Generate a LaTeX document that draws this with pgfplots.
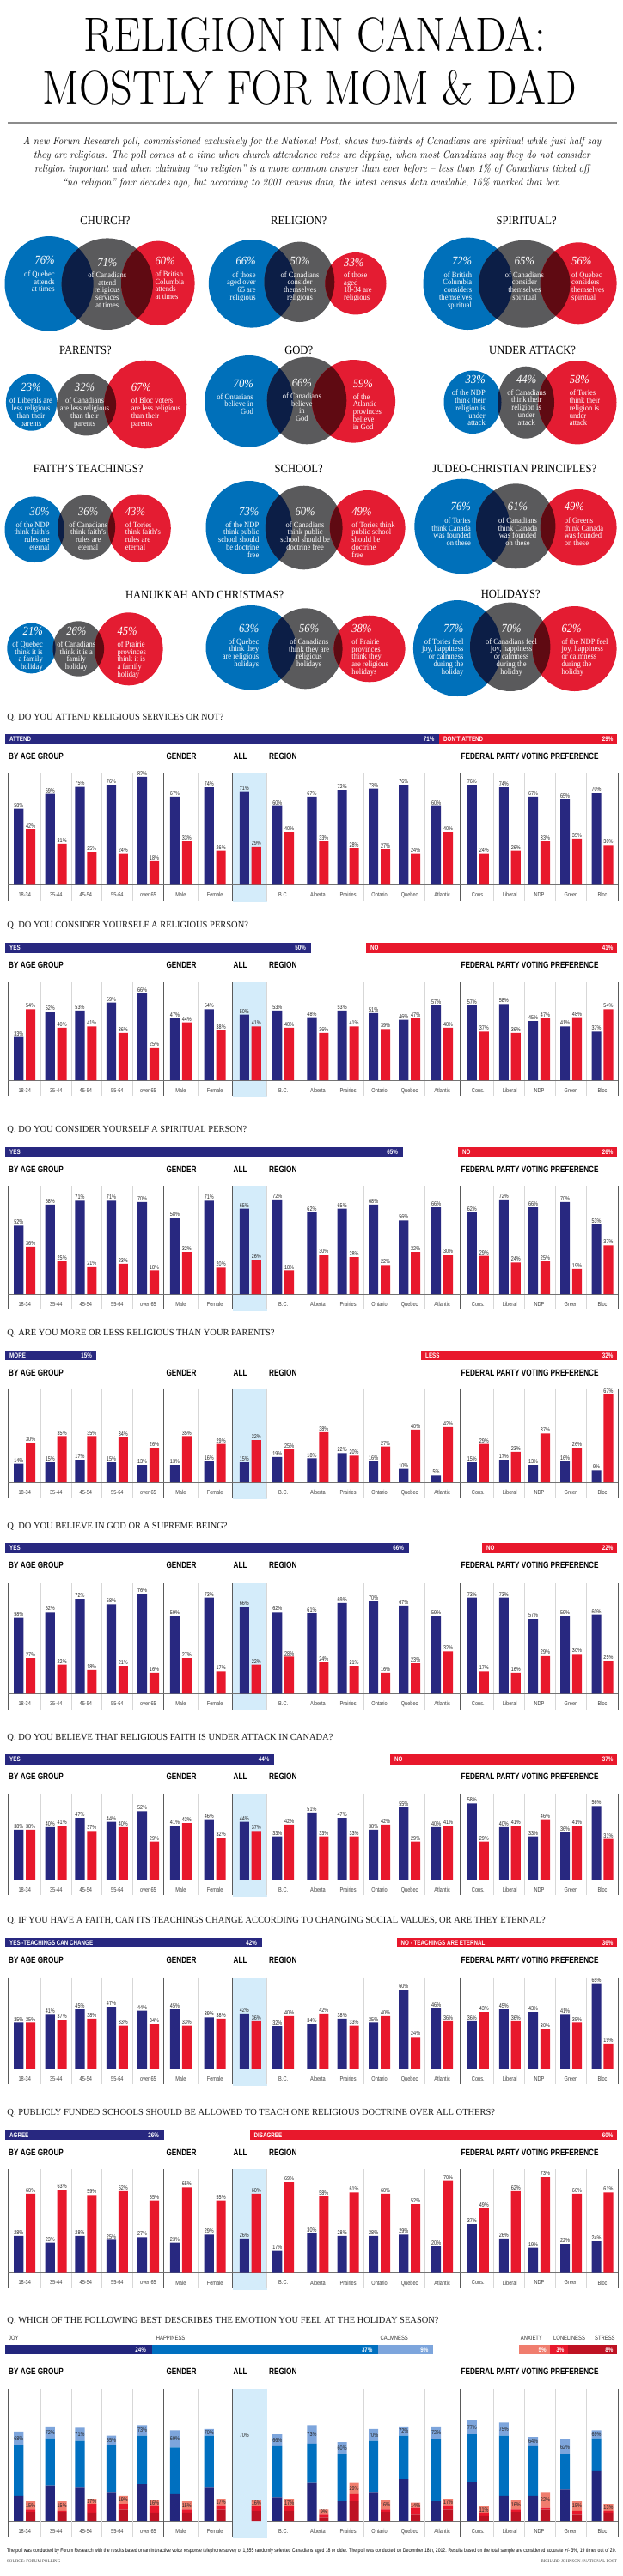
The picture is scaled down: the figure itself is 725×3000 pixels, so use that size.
\documentclass[border=0pt]{standalone}
\usepackage{pgfplots}
\pgfplotsset{compat=1.18}
\usepackage{pgfplotstable}
\usepackage{graphicx}
\usepackage{fontspec}
\newfontfamily\serifc[FakeStretch=0.9]{Liberation Serif}
\newfontfamily\serifq[FakeStretch=0.97]{Liberation Serif}
\newfontfamily\sansc[FakeStretch=0.78]{Liberation Sans}

\definecolor{navy}{RGB}{40,40,128}
\definecolor{bred}{RGB}{232,24,44}
\definecolor{canbg}{RGB}{212,236,250}
\definecolor{vblue}{RGB}{0,112,186}
\definecolor{vgray}{RGB}{90,90,92}
\definecolor{vred}{RGB}{228,28,50}
\definecolor{vnavy}{RGB}{12,30,70}
\definecolor{vmaroon}{RGB}{95,10,18}
\definecolor{joy}{RGB}{35,38,125}
\definecolor{hap}{RGB}{0,112,192}
\definecolor{calm}{RGB}{125,165,220}
\definecolor{anx}{RGB}{240,125,110}
\definecolor{lon}{RGB}{232,24,44}
\definecolor{strc}{RGB}{190,18,35}
\definecolor{clsep}{RGB}{215,215,215}
\definecolor{cdsep}{RGB}{90,90,90}

\tikzset{
 sepl/.style={draw=clsep, line width=0.7pt},
 sepd/.style={draw=cdsep, line width=1pt},
 basel/.style={draw=black!55, line width=0.9pt},
 vtitle/.style={font=\serifc\fontsize{14}{14}\selectfont, inner sep=0pt},
 vpct/.style={font=\serifc\itshape\fontsize{14}{14}\selectfont, text=white, inner sep=0pt},
 vtxt/.style={font=\serifc\fontsize{9.5}{8.8}\selectfont, text=white, inner sep=0pt},
 qtit/.style={font=\serifq\fontsize{10.8}{12}\selectfont, text=black!90, anchor=west, inner sep=0pt},
 head/.style={font=\sansc\bfseries\fontsize{10.5}{12}\selectfont, anchor=west, inner sep=0pt},
 sumt/.style={font=\sansc\bfseries\fontsize{8}{9}\selectfont, text=white, inner sep=0pt},
 legt/.style={font=\sansc\fontsize{7.5}{9}\selectfont, text=black!80, anchor=west, inner sep=0pt},
}

\pgfplotsset{
 secbase/.style={anchor=south west, scale only axis, width=725pt, height=153pt,
  xmin=0, xmax=725, ymin=0, ymax=100, clip=false,
  axis x line*=bottom, hide y axis, x axis line style={draw=none},
  xtick style={draw=none}, major tick length=0pt,
  xtick={28.7,65.2,99.9,136.4,172.5,210.4,250.2,291.3,329.7,369.9,405.1,441.6,476.7,514.6,556.3,593.3,627.5,664.5,701.0},
  xticklabels={18-34,35-44,45-54,55-64,over 65,Male,Female,Canada,B.C.,Alberta,Prairies,Ontario,Quebec,Atlantic,Cons.,Liberal,NDP,Green,Bloc},
  xticklabel style={font=\sansc\fontsize{7.2}{8}\selectfont, text=black!75, inner sep=0pt},
  xticklabel shift=9pt,
  every node near coord/.append style={font=\sansc\fontsize{7}{8}\selectfont, text=black!85, inner sep=1.2pt}},
 secax/.style={secbase, ybar=2.8pt, bar width=11.1pt,
  nodes near coords={\pgfmathprintnumber[assume math mode=true]{\pgfplotspointmeta}\%}},
 sumax/.style={anchor=west, scale only axis, width=712.5pt, height=11.5pt,
  xmin=0, xmax=100, ymin=-0.5, ymax=0.5, xbar stacked, bar width=11.5pt, hide axis, clip=false},
}

% ---------------- data ----------------
\pgfplotstableread{
x a b
28.7 58 42
65.2 69 31
99.9 75 25
136.4 76 24
172.5 82 18
210.4 67 33
250.2 74 26
291.3 71 29
329.7 60 40
369.9 67 33
405.1 72 28
441.6 73 27
476.7 76 24
514.6 60 40
556.3 76 24
593.3 74 26
627.5 67 33
664.5 65 35
701.0 70 30
}\qone
\pgfplotstableread{
x a b
28.7 33 54
65.2 52 40
99.9 53 41
136.4 59 36
172.5 66 25
210.4 47 44
250.2 54 38
291.3 50 41
329.7 53 40
369.9 48 36
405.1 53 41
441.6 51 39
476.7 46 47
514.6 57 40
556.3 57 37
593.3 58 36
627.5 45 47
664.5 41 48
701.0 37 54
}\qtwo
\pgfplotstableread{
x a b
28.7 52 36
65.2 68 25
99.9 71 21
136.4 71 23
172.5 70 18
210.4 58 32
250.2 71 20
291.3 65 26
329.7 72 18
369.9 62 30
405.1 65 28
441.6 68 22
476.7 56 32
514.6 66 30
556.3 62 29
593.3 72 24
627.5 66 25
664.5 70 19
701.0 53 37
}\qthree
\pgfplotstableread{
x a b
28.7 14 30
65.2 15 35
99.9 17 35
136.4 15 34
172.5 13 26
210.4 13 35
250.2 16 29
291.3 15 32
329.7 19 25
369.9 18 38
405.1 22 20
441.6 16 27
476.7 10 40
514.6 5 42
556.3 15 29
593.3 17 23
627.5 13 37
664.5 16 26
701.0 9 67
}\qfour
\pgfplotstableread{
x a b
28.7 58 27
65.2 62 22
99.9 72 18
136.4 68 21
172.5 76 16
210.4 59 27
250.2 73 17
291.3 66 22
329.7 62 28
369.9 61 24
405.1 69 21
441.6 70 16
476.7 67 23
514.6 59 32
556.3 73 17
593.3 73 16
627.5 57 29
664.5 59 30
701.0 60 25
}\qfive
\pgfplotstableread{
x a b
28.7 38 38
65.2 40 41
99.9 47 37
136.4 44 40
172.5 52 29
210.4 41 43
250.2 46 32
291.3 44 37
329.7 33 42
369.9 51 33
405.1 47 33
441.6 38 42
476.7 55 29
514.6 40 41
556.3 58 29
593.3 40 41
627.5 33 46
664.5 36 41
701.0 56 31
}\qsix
\pgfplotstableread{
x a b
28.7 35 35
65.2 41 37
99.9 45 38
136.4 47 33
172.5 44 34
210.4 45 33
250.2 39 38
291.3 42 36
329.7 32 40
369.9 34 42
405.1 38 33
441.6 35 40
476.7 60 24
514.6 46 36
556.3 36 43
593.3 45 36
627.5 43 30
664.5 41 35
701.0 65 19
}\qseven
\pgfplotstableread{
x a b
28.7 28 60
65.2 23 63
99.9 28 59
136.4 25 62
172.5 27 55
210.4 23 65
250.2 29 55
291.3 26 60
329.7 17 69
369.9 30 58
405.1 28 61
441.6 28 60
476.7 29 52
514.6 20 70
556.3 37 49
593.3 26 62
627.5 19 73
664.5 22 60
701.0 24 61
}\qeight
\pgfplotstableread{
x joy hap calm st lo an tb tr
28.7 19 39 10 7 2 6 68 15
65.2 27 36 9 7 1 7 72 15
99.9 26 35 10 6 7 4 71 17
136.4 22 36 7 9 4 6 65 19
172.5 28 37 8 6 6 4 73 16
210.4 21 35 13 6 3 6 69 15
250.2 26 39 5 9 3 5 70 17
291.3 24 37 9 8 3 5 70 16
329.7 18 39 9 8 3 6 66 17
369.9 29 30 14 3 2 4 73 9
405.1 15 36 9 15 6 8 60 29
441.6 22 39 9 7 2 7 70 16
476.7 32 33 7 5 5 4 72 14
514.6 15 47 10 9 3 5 72 17
556.3 30 36 11 4 2 5 77 11
593.3 19 46 10 7 2 7 75 16
627.5 19 38 7 9 1 12 64 22
664.5 24 27 11 5 3 7 62 15
701.0 38 25 6 6 2 5 69 13
}\qnine

% ---------------- helpers ----------------
\newcommand\barsdeco[1]{%
\fill[canbg] (axis cs:270.5,#1) rectangle (axis cs:310.7,-13);
\draw[sepl] (axis cs:47.6,#1) -- (axis cs:47.6,-12);
\draw[sepl] (axis cs:83.2,#1) -- (axis cs:83.2,-12);
\draw[sepl] (axis cs:118.8,#1) -- (axis cs:118.8,-12);
\draw[sepl] (axis cs:154.4,#1) -- (axis cs:154.4,-12);
\draw[sepl] (axis cs:230.3,#1) -- (axis cs:230.3,-12);
\draw[sepl] (axis cs:310.7,#1) -- (axis cs:310.7,-12);
\draw[sepl] (axis cs:351.4,#1) -- (axis cs:351.4,-12);
\draw[sepl] (axis cs:387.0,#1) -- (axis cs:387.0,-12);
\draw[sepl] (axis cs:423.1,#1) -- (axis cs:423.1,-12);
\draw[sepl] (axis cs:458.7,#1) -- (axis cs:458.7,-12);
\draw[sepl] (axis cs:494.8,#1) -- (axis cs:494.8,-12);
\draw[sepl] (axis cs:574.8,#1) -- (axis cs:574.8,-12);
\draw[sepl] (axis cs:610.4,#1) -- (axis cs:610.4,-12);
\draw[sepl] (axis cs:646.0,#1) -- (axis cs:646.0,-12);
\draw[sepl] (axis cs:682.1,#1) -- (axis cs:682.1,-12);
\draw[sepd] (axis cs:9.2,#1) -- (axis cs:9.2,-12);
\draw[sepd] (axis cs:190.0,#1) -- (axis cs:190.0,-12);
\draw[sepd] (axis cs:270.5,#1) -- (axis cs:270.5,-12);
\draw[sepd] (axis cs:535.0,#1) -- (axis cs:535.0,-12);
\draw[sepd] (axis cs:719.0,#1) -- (axis cs:719.0,-12);
\draw[basel] (axis cs:9.2,0) -- (axis cs:719,0);
}
\newcommand\barsec[3]{%
\begin{axis}[secax, at={(0pt,-#2pt)}]
\barsdeco{#3}
\addplot[fill=navy, draw=none] table[x=x,y=a]{#1};
\addplot[fill=bred, draw=none] table[x=x,y=b]{#1};
\end{axis}}
\newcommand\summ[4]{%
\begin{axis}[sumax, at={(5.5pt,-#1pt)}]
\addplot[fill=navy,draw=none] coordinates {(#2,0)};
\addplot[draw=none,fill=none] coordinates {(#3,0)};
\addplot[fill=bred,draw=none] coordinates {(#4,0)};
\end{axis}}
\newcommand\E[4]{(axis cs:#1,#2) ellipse [x radius=#3, y radius=#4]}
\newcommand\venn[3]{%
\fill[vblue] #1;
\fill[vgray] #2;
\fill[vred] #3;
\begin{scope}\clip #1; \fill[vnavy] #2; \end{scope}
\begin{scope}\clip #3; \fill[vmaroon] #2; \end{scope}
}
\newcommand\vtb[5]{\node[vpct,anchor=east] at (#1,-#2) {#4\%};\node[vtxt,anchor=north east,align=right] at (#1,-#3+3.5) {#5};}
\newcommand\vtg[5]{\node[vpct] at (#1,-#2) {#4\%};\node[vtxt,anchor=north,align=center] at (#1,-#3+3.5) {#5};}
\newcommand\vtr[5]{\node[vpct,anchor=west] at (#1,-#2) {#4\%};\node[vtxt,anchor=north west,align=left] at (#1,-#3+3.5) {#5};}
\newcommand\heads[1]{%
\node[head] at (10,-#1) {BY AGE GROUP};
\node[head] at (193.3,-#1) {GENDER};
\node[head] at (271.4,-#1) {ALL};
\node[head] at (313,-#1) {REGION};
\node[head] at (536.4,-#1) {FEDERAL PARTY VOTING PREFERENCE};}
\newcommand\sumtxt[7]{%
\node[sumt,anchor=west] at (11,-#1) {#2};
\node[sumt,anchor=east] at (#3,-#1) {#4};
\node[sumt,anchor=west] at (#5,-#1) {#6};
\node[sumt,anchor=east] at (713.5,-#1) {#7};}

\begin{document}
\begin{tikzpicture}
\useasboundingbox (0pt,0pt) rectangle (725pt,-3000pt);

% ---------- Venn diagrams ----------
\begin{axis}[at={(0pt,0pt)}, anchor=north west, scale only axis, width=725pt, height=3000pt,
  xmin=0, xmax=725, ymin=0, ymax=3000, y dir=reverse, hide axis, clip=false]
\venn{\E{57.1}{330.3}{51.6}{55.3}}{\E{124.8}{330.7}{53.2}{53.3}}{\E{183.8}{329.8}{42.8}{49.2}}
\venn{\E{293}{330.3}{50.2}{51.3}}{\E{348.4}{328.3}{40.9}{46.7}}{\E{413.9}{330.2}{35.6}{36.2}}
\venn{\E{544.5}{330.3}{52}{53.7}}{\E{610.4}{330.7}{53.2}{51}}{\E{673.2}{329.8}{44.4}{47.5}}
\venn{\E{36.5}{468.7}{29.6}{33}}{\E{100.6}{471.2}{34.5}{36.2}}{\E{169.2}{471}{48.1}{51.3}}
\venn{\E{289.7}{467.3}{51.6}{53.3}}{\E{357}{466.5}{46.3}{50.8}}{\E{411.5}{467.3}{48.6}{48.3}}
\venn{\E{550}{468.3}{33.5}{36.7}}{\E{612}{468.7}{33}{42}}{\E{672}{468.7}{45.5}{48.7}}
\venn{\E{40.2}{616.7}{34.7}{38.3}}{\E{100.6}{614.2}{33.5}{37.5}}{\E{162.3}{615.3}{36.5}{39.7}}
\venn{\E{289.7}{614.2}{50.2}{54.2}}{\E{353.7}{614.5}{44.9}{48.8}}{\E{427.7}{614.7}{43.9}{43.7}}
\venn{\E{537.8}{613}{55.5}{55.3}}{\E{600.2}{612.8}{46.2}{49.5}}{\E{673.2}{614.2}{44.4}{44.2}}
\venn{\E{36.5}{755}{28.2}{29.3}}{\E{91.3}{755.5}{29.8}{32.2}}{\E{149.8}{755.8}{39.8}{42.5}}
\venn{\E{292}{754.2}{52.5}{49.2}}{\E{355.4}{755.3}{43.2}{47}}{\E{430}{755.5}{41.6}{38.8}}
\venn{\E{532.2}{755}{51.3}{56}}{\E{593.7}{753.3}{46.7}{51.7}}{\E{668.6}{755.5}{49}{49.5}}
\end{axis}

% ---------- summary bars ----------
\summ{860.8}{71}{0}{29}
\summ{1104}{50}{9}{41}
\summ{1341.7}{65}{9}{26}
\summ{1578.5}{15}{53}{32}
\summ{1803.2}{66}{12}{22}
\summ{2049.2}{44}{19}{37}
\summ{2262.7}{42}{22}{36}
\summ{2486.5}{26}{14}{60}
\begin{axis}[sumax, at={(5.5pt,-2736.5pt)}]
\addplot[fill=joy,draw=none] coordinates {(24,0)};
\addplot[fill=hap,draw=none] coordinates {(37,0)};
\addplot[fill=calm,draw=none] coordinates {(9,0)};
\addplot[draw=none,fill=none] coordinates {(14,0)};
\addplot[fill=anx,draw=none] coordinates {(5,0)};
\addplot[fill=lon,draw=none] coordinates {(3,0)};
\addplot[fill=strc,draw=none] coordinates {(8,0)};
\end{axis}

% ---------- bar sections ----------
\barsec{\qone}{1030.3}{85}
\barsec{\qtwo}{1258}{74.5}
\barsec{\qthree}{1507}{82.2}
\barsec{\qfour}{1726}{70.8}
\barsec{\qfive}{1972.3}{84.3}
\barsec{\qsix}{2189}{65.4}
\barsec{\qseven}{2409}{69.5}
\barsec{\qeight}{2646.7}{78.9}

\begin{axis}[secbase, at={(0pt,-2936pt)}, ybar stacked, bar width=11.1pt, bar shift=-6.95pt]
\barsdeco{100.8}
\addplot[fill=joy, draw=none] table[x=x,y=joy]{\qnine};
\addplot[fill=hap, draw=none] table[x=x,y=hap]{\qnine};
\addplot[fill=calm, draw=none, point meta=explicit,
  nodes near coords={\pgfmathprintnumber[assume math mode=true]{\pgfplotspointmeta}\%}]
  table[x=x,y=calm,meta=tb]{\qnine};
\end{axis}
\begin{axis}[secbase, at={(0pt,-2936pt)}, ybar stacked, bar width=11.1pt, bar shift=6.95pt, xtick=\empty]
\addplot[fill=strc, draw=none] table[x=x,y=st]{\qnine};
\addplot[fill=lon, draw=none] table[x=x,y=lo]{\qnine};
\addplot[fill=anx, draw=none, point meta=explicit,
  nodes near coords={\pgfmathprintnumber[assume math mode=true]{\pgfplotspointmeta}\%}]
  table[x=x,y=an,meta=tr]{\qnine};
\end{axis}

% ---------- text ----------
\begin{scope}[x=1pt,y=1pt]
\node[anchor=base, inner sep=0pt] at (366.5,-60) {\scalebox{0.905}[1]{\fontsize{55.6}{60}\selectfont RELIGION IN CANADA:}};
\node[anchor=base, inner sep=0pt] at (360.5,-122) {\scalebox{0.905}[1]{\fontsize{55.6}{60}\selectfont MOSTLY FOR MOM \& DAD}};
\draw[black!45, line width=1.2pt] (9,-143) -- (718,-143);
\node[inner sep=0pt] at (363,-189) {\scalebox{0.9}[1]{\fontsize{12.5}{16}\selectfont\itshape\begin{tabular}{@{}c@{}}
A new Forum Research poll, commissioned exclusively for the National Post, shows two-thirds of Canadians are spiritual while just half say\\
they are religious. The poll comes at a time when church attendance rates are dipping, when most Canadians say they do not consider\\
religion important and when claiming “no religion” is a more common answer than ever before – less than 1\% of Canadians ticked off\\
“no religion” four decades ago, but according to 2001 census data, the latest census data available, 16\% marked that box.
\end{tabular}}};

% Venn titles
\node[vtitle] at (122.5,-257.3) {CHURCH?};
\node[vtitle] at (347.7,-257.3) {RELIGION?};
\node[vtitle] at (612.7,-257.3) {SPIRITUAL?};
\node[vtitle] at (99.4,-408) {PARENTS?};
\node[vtitle] at (347.7,-408) {GOD?};
\node[vtitle] at (619.6,-408) {UNDER ATTACK?};
\node[vtitle] at (102.7,-545.7) {FAITH’S TEACHINGS?};
\node[vtitle] at (347.7,-545.7) {SCHOOL?};
\node[vtitle] at (598.8,-545.7) {JUDEO-CHRISTIAN PRINCIPLES?};
\node[vtitle] at (238.1,-692.7) {HANUKKAH AND CHRISTMAS?};
\node[vtitle] at (594.2,-691.7) {HOLIDAYS?};

% Venn texts
\vtb{63.8}{303.3}{319}{76}{of Quebec\\attends\\at times}
\vtg{124.8}{305.7}{320}{71}{of Canadians\\attend\\religious\\services\\at times}
\vtr{180.3}{304}{319}{60}{of British\\Columbia\\attends\\at times}
\vtb{297.8}{304}{319.7}{66}{of those\\aged over\\65 are\\religious}
\vtg{349.1}{304}{319.7}{50}{of Canadians\\consider\\themselves\\religious}
\vtr{400}{305.7}{320}{33}{of those\\aged\\18-34 are\\religious}
\vtb{549.3}{304}{319.7}{72}{of British\\Columbia\\considers\\themselves\\spiritual}
\vtg{610.4}{304}{319.7}{65}{of Canadians\\consider\\themselves\\spiritual}
\vtr{665}{304}{319.7}{56}{of Quebec\\considers\\themselves\\spiritual}
\vtg{36}{450.7}{466.3}{23}{of Liberals are\\less religious\\than their\\parents}
\vtg{98.5}{450.7}{466.3}{32}{of Canadians\\are less religious\\than their\\parents}
\vtr{152.6}{450.7}{466.3}{67}{of Bloc voters\\are less religious\\than their\\parents}
\vtb{295}{447.3}{461.7}{70}{of Ontarians\\believe in\\God}
\vtg{351.4}{446.3}{461}{66}{of Canadians\\believe\\in\\God}
\vtr{410.6}{447.3}{461.7}{59}{of the\\Atlantic\\provinces\\believe\\in God}
\vtb{565}{442.3}{457.3}{33}{of the NDP\\think their\\religion is\\under\\attack}
\vtg{612.7}{442.3}{456.7}{44}{of Canadians\\think their\\religion is\\under\\attack}
\vtr{662.6}{442.3}{457.3}{58}{of Tories\\think their\\religion is\\under\\attack}
\vtb{57.8}{595.7}{610.7}{30}{of the NDP\\think faith’s\\rules are\\eternal}
\vtg{102.7}{595.7}{610.7}{36}{of Canadians\\think faith’s\\rules are\\eternal}
\vtr{145.7}{595.7}{610.7}{43}{of Tories\\think faith’s\\rules are\\eternal}
\vtb{301.5}{595.7}{610.7}{73}{of the NDP\\think public\\school should\\be doctrine\\free}
\vtg{355.1}{595.7}{610.7}{60}{of Canadians\\think public\\school should be\\doctrine free}
\vtr{409.2}{595.7}{610.7}{49}{of Tories think\\public school\\should be\\doctrine\\free}
\vtb{548}{590}{606}{76}{of Tories\\think Canada\\was founded\\on these}
\vtg{602.5}{590}{606}{61}{of Canadians\\think Canada\\was founded\\on these}
\vtr{656.6}{590}{606}{49}{of Greens\\think Canada\\was founded\\on these}
\vtb{50}{735}{750}{21}{of Quebec\\think it is\\a family\\holiday}
\vtg{88.8}{735}{750}{26}{of Canadians\\think it is a\\family\\holiday}
\vtr{136.4}{735}{750}{45}{of Prairie\\provinces\\think it is\\a family\\holiday}
\vtb{301.5}{731.7}{746.7}{63}{of Quebec\\think they\\are religious\\holidays}
\vtg{359.7}{731.7}{747}{56}{of Canadians\\think they are\\religious\\holidays}
\vtr{409.2}{732.3}{747}{38}{of Prairie\\provinces\\think they\\are religious\\holidays}
\vtb{539.6}{731.7}{746.7}{77}{of Tories feel\\joy, happiness\\or calmness\\during the\\holiday}
\vtg{595.1}{731.7}{746.7}{70}{of Canadians feel\\joy, happiness\\or calmness\\during the\\holiday}
\vtr{653.4}{731.7}{746.7}{62}{of the NDP feel\\joy, happiness\\or calmness\\during the\\holiday}

% Question titles
\node[qtit] at (8.3,-835.3) {Q. DO YOU ATTEND RELIGIOUS SERVICES OR NOT?};
\node[qtit] at (8.3,-1077.3) {Q. DO YOU CONSIDER YOURSELF A RELIGIOUS PERSON?};
\node[qtit] at (8.3,-1315.3) {Q. DO YOU CONSIDER YOURSELF A SPIRITUAL PERSON?};
\node[qtit] at (8.3,-1552.7) {Q. ARE YOU MORE OR LESS RELIGIOUS THAN YOUR PARENTS?};
\node[qtit] at (8.3,-1777.3) {Q. DO YOU BELIEVE IN GOD OR A SUPREME BEING?};
\node[qtit] at (8.3,-2023.3) {Q. DO YOU BELIEVE THAT RELIGIOUS FAITH IS UNDER ATTACK IN CANADA?};
\node[qtit] at (8.3,-2236.7) {Q. IF YOU HAVE A FAITH, CAN ITS TEACHINGS CHANGE ACCORDING TO CHANGING SOCIAL VALUES, OR ARE THEY ETERNAL?};
\node[qtit] at (8.3,-2460.7) {Q. PUBLICLY FUNDED SCHOOLS SHOULD BE ALLOWED TO TEACH ONE RELIGIOUS DOCTRINE OVER ALL OTHERS?};
\node[qtit] at (8.3,-2702.7) {Q. WHICH OF THE FOLLOWING BEST DESCRIBES THE EMOTION YOU FEEL AT THE HOLIDAY SEASON?};

% summary texts
\sumtxt{860.8}{ATTEND}{505.5}{71\%}{516}{DON’T ATTEND}{29\%}
\sumtxt{1104}{YES}{356}{50\%}{431}{NO}{41\%}
\sumtxt{1341.7}{YES}{463}{65\%}{538}{NO}{26\%}
\sumtxt{1578.5}{MORE}{107}{15\%}{495}{LESS}{32\%}
\sumtxt{1803.2}{YES}{470}{66\%}{566}{NO}{22\%}
\sumtxt{2049.2}{YES}{313.5}{44\%}{459}{NO}{37\%}
\sumtxt{2262.7}{YES -TEACHINGS CAN CHANGE}{299}{42\%}{466.5}{NO - TEACHINGS ARE ETERNAL}{36\%}
\sumtxt{2486.5}{AGREE}{185}{26\%}{295.5}{DISAGREE}{60\%}
\node[sumt,anchor=east] at (170,-2736.5) {24\%};
\node[sumt,anchor=east] at (433.7,-2736.5) {37\%};
\node[sumt,anchor=east] at (498.5,-2736.5) {9\%};
\node[sumt,anchor=east] at (635.8,-2736.5) {5\%};
\node[sumt,anchor=east] at (656.6,-2736.5) {3\%};
\node[sumt,anchor=east] at (713.5,-2736.5) {8\%};
\node[legt] at (10,-2722.7) {JOY};
\node[legt] at (181.7,-2722.7) {HAPPINESS};
\node[legt] at (442.5,-2722.7) {CALMNESS};
\node[legt] at (605.7,-2722.7) {ANXIETY};
\node[legt] at (644,-2722.7) {LONELINESS};
\node[legt] at (692,-2722.7) {STRESS};

% group headings
\heads{881.3}
\heads{1124}
\heads{1362}
\heads{1599.3}
\heads{1823.3}
\heads{2069.3}
\heads{2282.7}
\heads{2506.7}
\heads{2761.7}

% footer
\node[anchor=west, inner sep=0pt] at (8,-2970.7) {\resizebox{709pt}{!}{\sansc\fontsize{6}{7}\selectfont The poll was conducted by Forum Research with the results based on an interactive voice response telephone survey of 1,355 randomly selected Canadians aged 18 or older. The poll was conducted on December 18th, 2012. Results based on the total sample are considered accurate +/- 3\%, 19 times out of 20.}};
\node[anchor=west, inner sep=0pt, font=\serifc\fontsize{5.5}{6}\selectfont, text=black!75] at (8,-2982.3) {SOURCE: FORUM POLLING};
\node[anchor=east, inner sep=0pt, font=\serifc\fontsize{5.5}{6}\selectfont, text=black!75] at (718,-2982.3) {RICHARD JOHNSON / NATIONAL POST};
\end{scope}
\end{tikzpicture}
\end{document}
